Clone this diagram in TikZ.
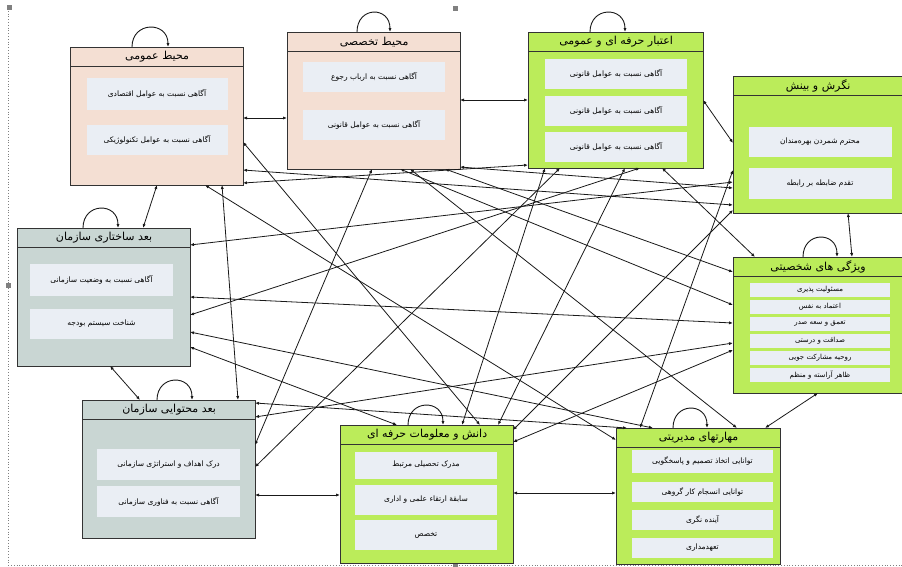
\documentclass[tikz,border=0pt]{standalone}
\usepackage{fontspec}
\usetikzlibrary{calc,arrows.meta}
\TeXXeTstate=1
\newfontfamily\persianfont[Script=Arabic]{DejaVu Sans}
\newcommand{\fa}[1]{\beginR #1\endR}
\definecolor{peach}{HTML}{F4DFD3}
\definecolor{lime}{HTML}{BBEC5A}
\definecolor{sage}{HTML}{C9D6D3}
\definecolor{itemfill}{HTML}{EAEEF4}
\tikzset{
  panel/.style={draw=black!80, line width=1.2pt, anchor=north west, inner sep=0pt},
  head/.style={draw=black!80, line width=1.2pt, anchor=north, inner sep=0pt, minimum height=19pt,
    font=\persianfont\fontsize{11}{13}\selectfont},
  item/.style={fill=itemfill, inner sep=0pt, align=center,
    font=\persianfont\fontsize{7.5}{9}\selectfont},
  link/.style={black!90, line width=0.8pt, {Latex[length=4pt,width=3.2pt]}-{Latex[length=4pt,width=3.2pt]}},
  loopy/.style={black!90, line width=0.9pt, -{Latex[length=4pt,width=3.2pt]}}
}
\begin{document}
\begin{tikzpicture}[x=1pt,y=-1pt]
\useasboundingbox (0,0) rectangle (902,566);
% selection frame
\draw[dotted, gray, line width=0.8pt] (8,8) -- (8,565) -- (902,565);
\foreach \hx/\hy in {9/7, 455/8, 8/285, 455/565}{
  \fill[gray] (\hx-2.5,\hy-2.5) rectangle (\hx+2.5,\hy+2.5);
}
% general environment
\node[panel, fill=peach, minimum width=173pt, minimum height=138pt] (A) at (70,47) {};
\node[head, fill=peach, minimum width=173pt] (A-h) at (A.north) {\fa{محیط عمومی}};
\node[item, minimum width=141pt, minimum height=32pt] (A-1) at (157,93.5) {\fa{آگاهی نسبت به عوامل اقتصادی}};
\node[item, minimum width=141pt, minimum height=30pt] (A-2) at (157,140) {\fa{آگاهی نسبت به عوامل تکنولوژیکی}};
% specific environment
\node[panel, fill=peach, minimum width=173pt, minimum height=137pt] (B) at (287,32) {};
\node[head, fill=peach, minimum width=173pt] (B-h) at (B.north) {\fa{محیط تخصصی}};
\node[item, minimum width=142pt, minimum height=30pt] (B-1) at (374,77) {\fa{آگاهی نسبت به ارباب رجوع}};
\node[item, minimum width=142pt, minimum height=30pt] (B-2) at (374,125) {\fa{آگاهی نسبت به عوامل قانونی}};
% credibility
\node[panel, fill=lime, minimum width=175pt, minimum height=136pt] (C) at (528,32) {};
\node[head, fill=lime, minimum width=175pt] (C-h) at (C.north) {\fa{اعتبار حرفه ای و عمومی}};
\foreach \y [count=\i] in {74,110.5,147}{
  \node[item, minimum width=142pt, minimum height=30pt] (C-\i) at (616,\y) {\fa{آگاهی نسبت به عوامل قانونی}};
}
% attitude
\node[panel, fill=lime, minimum width=169pt, minimum height=137pt] (D) at (733,76) {};
\node[head, fill=lime, minimum width=169pt] (D-h) at (D.north) {\fa{نگرش و بینش}};
\node[item, minimum width=143pt, minimum height=30pt] (D-1) at (820,142) {\fa{محترم شمردن بهره‌مندان}};
\node[item, minimum width=143pt, minimum height=31pt] (D-2) at (820,183.5) {\fa{تقدم ضابطه بر رابطه}};
% structural dimension
\node[panel, fill=sage, minimum width=173pt, minimum height=138pt] (E) at (17,228) {};
\node[head, fill=sage, minimum width=173pt] (E-h) at (E.north) {\fa{بعد ساختاری سازمان}};
\node[item, minimum width=143pt, minimum height=32pt] (E-1) at (101.5,280) {\fa{آگاهی نسبت به وضعیت سازمانی}};
\node[item, minimum width=143pt, minimum height=30pt] (E-2) at (101.5,324) {\fa{شناخت سیستم بودجه}};
% personality
\node[panel, fill=lime, minimum width=169pt, minimum height=136pt] (F) at (733,257) {};
\node[head, fill=lime, minimum width=169pt] (F-h) at (F.north) {\fa{ویژگی های شخصیتی}};
\foreach \t [count=\i] in {مسئولیت پذیری, اعتماد به نفس, تعمق و سعه صدر, صداقت و درستی, روحیه مشارکت جویی, ظاهر آراسته و منظم}{
  \node[item, minimum width=140pt, minimum height=14pt, font=\persianfont\fontsize{7}{8}\selectfont] (F-\i) at (820,273+17*\i) {\fa{\t}};
}
% content dimension
\node[panel, fill=sage, minimum width=173pt, minimum height=138pt] (G) at (82,400) {};
\node[head, fill=sage, minimum width=173pt] (G-h) at (G.north) {\fa{بعد محتوایی سازمان}};
\node[item, minimum width=143pt, minimum height=31pt] (G-1) at (168.5,464.5) {\fa{درک اهداف و استراتژی سازمانی}};
\node[item, minimum width=143pt, minimum height=31pt] (G-2) at (168.5,501.5) {\fa{آگاهی نسبت به فناوری سازمانی}};
% professional knowledge
\node[panel, fill=lime, minimum width=173pt, minimum height=138pt] (H) at (340,425) {};
\node[head, fill=lime, minimum width=173pt] (H-h) at (H.north) {\fa{دانش و معلومات حرفه ای}};
\node[item, minimum width=142pt, minimum height=27pt] (H-1) at (426,465) {\fa{مدرک تحصیلی مرتبط}};
\node[item, minimum width=142pt, minimum height=30pt] (H-2) at (426,500) {\fa{سابقهٔ ارتقاء علمی و اداری}};
\node[item, minimum width=142pt, minimum height=30pt] (H-3) at (426,535) {\fa{تخصص}};
% managerial skills
\node[panel, fill=lime, minimum width=164pt, minimum height=136pt] (I) at (616,428) {};
\node[head, fill=lime, minimum width=164pt] (I-h) at (I.north) {\fa{مهارتهای مدیریتی}};
\node[item, minimum width=141pt, minimum height=23pt] (I-1) at (702.5,461.5) {\fa{توانایی اتخاذ تصمیم و پاسخگویی}};
\node[item, minimum width=141pt, minimum height=20pt] (I-2) at (702.5,492) {\fa{توانایی انسجام کار گروهی}};
\node[item, minimum width=141pt, minimum height=20pt] (I-3) at (702.5,519.5) {\fa{آینده نگری}};
\node[item, minimum width=141pt, minimum height=20pt] (I-4) at (702.5,548) {\fa{تعهدمداری}};
% self loops
\foreach \b/\l/\r in {A/62/98, B/70/103, C/62/97, E/66/101, F/70/104, G/75/110, H/68/103, I/57/91}{
  \draw[loopy] ($(\b.north west)+(\l,0)$) .. controls +(0,-26) and +(0,-26) .. ($(\b.north west)+(\r,0)$);
}
% links between neighbours and across
\foreach \s/\sx/\sy/\t/\tx/\ty in {
  A/173/71/B/0/86, B/173/68/C/0/68, C/175/68/D/0/67, D/115/137/F/119/0,
  E/126/0/A/87/138, E/93/138/G/58/0, A/152/138/G/156/0, G/173/95/H/0/70,
  H/173/68/I/0/65, F/85/136/I/149/0,
  A/173/123/D/0/129, A/173/136/C/0/133, A/173/95/H/140/0, A/135/138/I/0/12,
  B/85/137/G/173/45, B/123/137/I/121/0, B/158/137/F/0/15, B/113/137/F/0/48,
  B/173/135/D/0/112, E/173/17/D/0/106, E/173/69/F/0/66, E/173/87/C/112/136,
  E/173/104/I/37/0, E/173/119/H/57/0, G/173/3/I/11/0, G/173/17/F/0/86,
  G/173/67/C/32/136, H/158/0/C/97/136, H/173/5/D/0/134, H/173/17/F/0/93,
  H/122/0/C/17/136, I/24/0/D/0/94, C/134/136/F/22/0}{
  \draw[link] ($(\s.north west)+(\sx,\sy)$) -- ($(\t.north west)+(\tx,\ty)$);
}
\end{tikzpicture}
\end{document}
